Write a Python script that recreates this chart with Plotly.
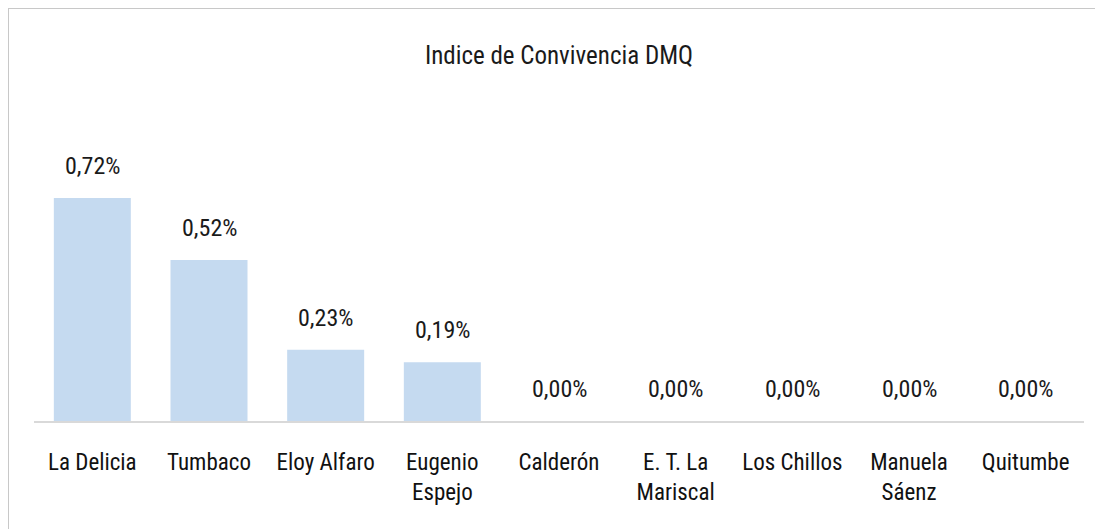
import plotly.graph_objects as go

categories = ["La Delicia", "Tumbaco", "Eloy Alfaro", "Eugenio<br>Espejo", "Calderón",
              "E. T. La<br>Mariscal", "Los Chillos", "Manuela<br>Sáenz", "Quitumbe"]
values = [0.72, 0.52, 0.23, 0.19, 0.00, 0.00, 0.00, 0.00, 0.00]
labels = [f"{v:.2f}".replace(".", ",") + "%" for v in values]
title_text = "Indice de Convivencia DMQ"

FONT = "Roboto Condensed, Liberation Sans Narrow, sans-serif"
# the page body adds an 8px offset, so the figure is drawn 8px smaller
W, H = 1095, 521
L, R, T, B = 26, 19, 92, 108

fig = go.Figure()
fig.add_trace(go.Bar(x=categories, y=values, marker=dict(color="#c5daf0", line=dict(width=0)),
                     hoverinfo="skip"))

for c, v, t in zip(categories, values, labels):
    fig.add_annotation(x=c, y=v, text=t, showarrow=False, yanchor="bottom", yshift=16,
                       font=dict(family=FONT, size=24, color="#1a1a1a"))

pw = W - L - R
ph = H - T - B
bx = (0 - L) / pw
by = 1 + (T - 0) / ph
fig.add_shape(type="line", xref="paper", yref="paper", x0=bx, x1=(W + 5 - L) / pw, y0=by, y1=by,
              line=dict(color="#c8c8c8", width=2))
fig.add_shape(type="line", xref="paper", yref="paper", x0=bx, x1=bx, y0=by, y1=-(B + 5) / ph,
              line=dict(color="#c8c8c8", width=2))

fig.update_layout(
    width=W, height=H,
    margin=dict(l=L, r=R, t=T, b=B),
    paper_bgcolor="white", plot_bgcolor="white",
    bargap=0.34,
    showlegend=False,
    title=dict(text=title_text, x=0.5, xref="paper", y=1 - 47 / H, yanchor="middle",
               font=dict(family=FONT, size=25, color="#1a1a1a")),
    xaxis=dict(showline=True, linecolor="#d9d9d9", linewidth=2, ticks="", ticklen=0,
               ticklabelstandoff=19,
               tickfont=dict(family=FONT, size=23, color="#111111"), showgrid=False,
               fixedrange=True),
    yaxis=dict(range=[0, ph / 309.7], showticklabels=False, showgrid=False, zeroline=False,
               showline=False, fixedrange=True),
)

fig.write_html("out.html")
